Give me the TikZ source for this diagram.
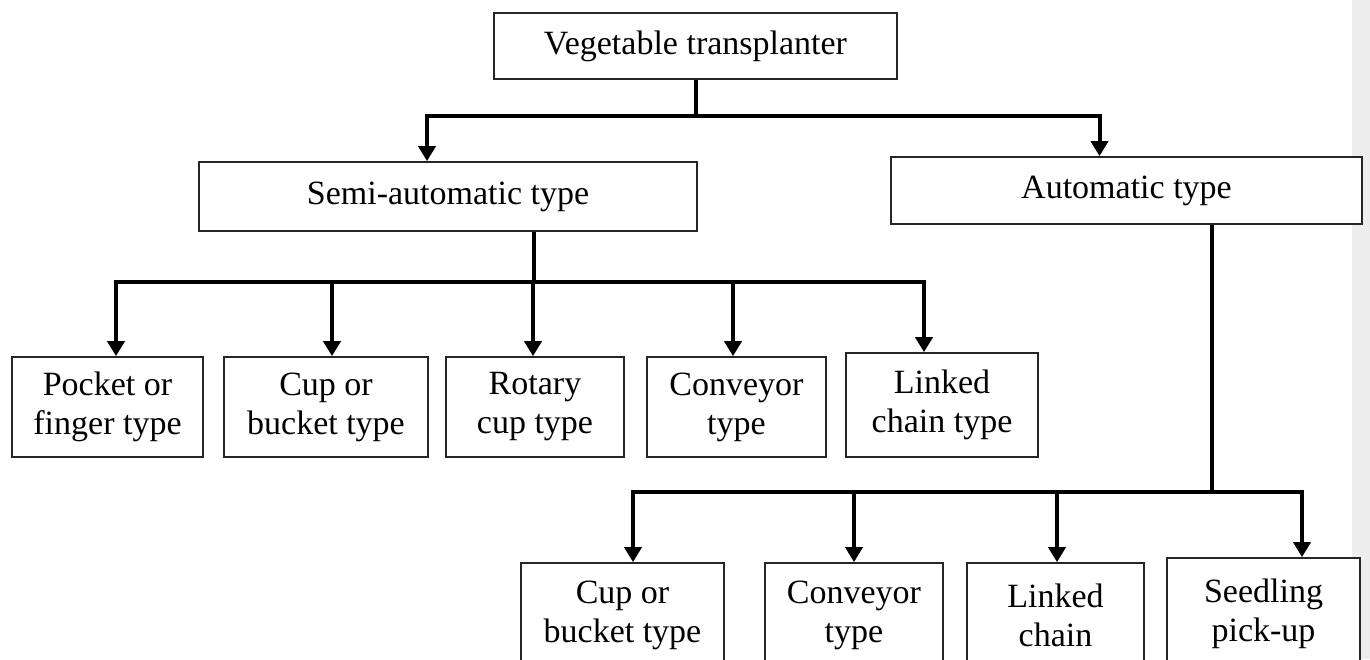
\documentclass[tikz,border=0pt]{standalone}
\usepackage{fontspec}
\setmainfont{Liberation Serif}
\usetikzlibrary{arrows.meta}
\begin{document}
\begin{tikzpicture}[x=1pt, y=-1pt, font=\fontsize{34}{39}\selectfont, line join=miter,
	box/.style={draw=black!85, line width=1.7pt, fill=white, align=center, inner sep=0pt},
	conn/.style={line width=4pt},
	arr/.style={conn, -{Triangle[length=15pt,width=17pt]}}]
	\useasboundingbox (0,0) rectangle (1370,659);
	\clip (0,0) rectangle (1370,659);
	\fill[white] (0,0) rectangle (1370,659);
	\fill[black!7] (1352,0) rectangle (1370,659);
	\node[box, minimum width=403pt, minimum height=66pt] (vt) at (695.5,46) {Vegetable transplanter};
	\node[box, minimum width=498pt, minimum height=69pt] (semi) at (448,196.5) {Semi-automatic type};
	\node[box, minimum width=471pt, minimum height=67pt] (auto) at (1126.5,190.5) {Automatic type};
	\node[box, minimum width=191pt, minimum height=100pt] (p1) at (107.5,407) {Pocket or\\finger type};
	\node[box, minimum width=204pt, minimum height=100pt] (p2) at (326,407) {Cup or\\bucket type};
	\node[box, minimum width=178pt, minimum height=100pt] (p3) at (535,407) {Rotary\\cup type};
	\node[box, minimum width=179pt, minimum height=100pt] (p4) at (736.5,407) {Conveyor\\type};
	\node[box, minimum width=192pt, minimum height=104pt] (p5) at (942,405) {Linked\\chain type};
	\node[box, minimum width=203pt, minimum height=104pt] (q1) at (622.5,615) {Cup or\\bucket type};
	\node[box, minimum width=178pt, minimum height=104pt] (q2) at (854,615) {Conveyor\\type};
	\node[box, minimum width=177pt, minimum height=104pt] (q3) at (1055.5,615) {Linked\\chain};
	\node[box, minimum width=193pt, minimum height=112pt] (q4) at (1263.5,614) {Seedling\\pick-up};
	\coordinate (j0) at (695.5,116);
	\coordinate (j1) at (534,282);
	\coordinate (j2) at (1212,492);
	\draw[conn] (vt) -- (j0);
	\draw[arr] (j0) -| ([xshift=-21pt]semi.north);
	\draw[arr] (j0) -| ([xshift=-27pt]auto.north);
	\draw[conn] ([xshift=86pt]semi.south) -- (j1);
	\foreach \n/\dx in {p1/8.5, p2/6, p3/-2, p4/-3.5, p5/-18}
		\draw[arr] (j1) -| ([xshift=\dx pt]\n.north);
	\draw[conn] ([xshift=85.5pt]auto.south) -- (j2);
	\foreach \n/\dx in {q1/10.5, q2/0, q3/1.5, q4/38.5}
		\draw[arr] (j2) -| ([xshift=\dx pt]\n.north);
\end{tikzpicture}
\end{document}
